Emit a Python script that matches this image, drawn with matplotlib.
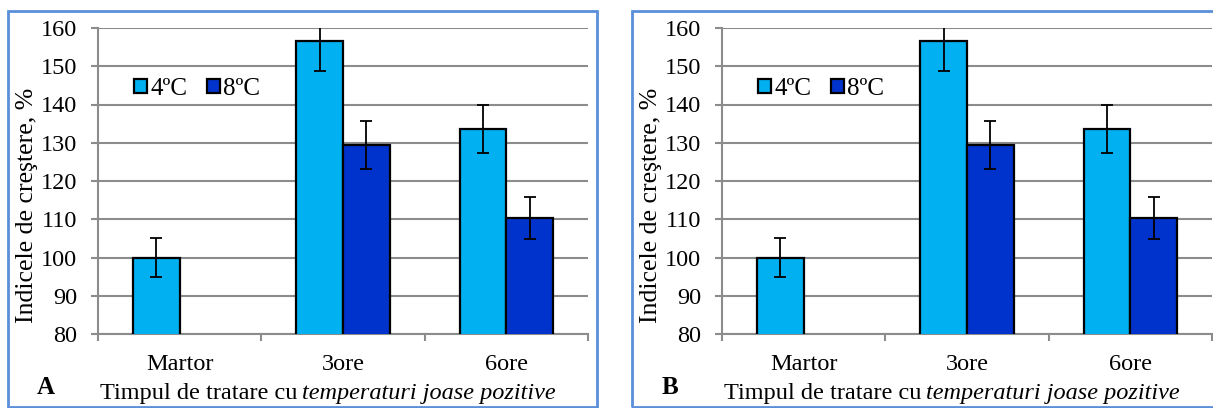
import numpy as np
import matplotlib.pyplot as plt
from matplotlib.patches import Rectangle

plt.rcParams["font.family"] = ["Liberation Serif", "DejaVu Serif"]

categories = ["Martor", "3ore", "6ore"]
series_names = ["4ºC", "8ºC"]
vals_4c = [100.0, 156.6, 133.6]
err_4c = [5.0, 7.9, 6.4]
vals_8c = [np.nan, 129.5, 110.4]
err_8c = [np.nan, 6.3, 5.5]
panel_letters = ["A", "B"]

C_LIGHT = "#00B0F0"
C_DARK = "#0033CC"
GRID = "#8C8C8C"
BORDER = "#5B8FD9"
FS = 17.5

W, H = 1213, 408
fig = plt.figure(figsize=(W / 100, H / 100), dpi=100)


def px(x, y):
	return x / W, 1 - y / H


def draw_panel(off, letter):
	# outer frame of the panel
	x0, y0 = px(off + 8, 407)
	fig.patches.append(Rectangle((x0, y0), 589 / W, 396 / H, transform=fig.transFigure,
		fill=False, edgecolor=BORDER, linewidth=2, zorder=0))

	ax = fig.add_axes([(off + 98) / W, (H - 334) / H, 490 / W, 306 / H])
	x = np.arange(len(categories))
	bw = 1 / 3.5
	ax.bar(x - bw / 2, vals_4c, bw, color=C_LIGHT, edgecolor="black", linewidth=1.6,
		label=series_names[0], zorder=3)
	ax.bar(x + bw / 2, vals_8c, bw, color=C_DARK, edgecolor="black", linewidth=1.6,
		label=series_names[1], zorder=3)
	ax.errorbar(x - bw / 2, vals_4c, yerr=err_4c, fmt="none", ecolor="black",
		elinewidth=1.3, capsize=4.5, capthick=1.3, zorder=4)
	ax.errorbar(x + bw / 2, vals_8c, yerr=err_8c, fmt="none", ecolor="black",
		elinewidth=1.3, capsize=4.5, capthick=1.3, zorder=4)

	ax.set_ylim(80, 160)
	ax.set_xlim(-0.5, 2.5)
	ax.set_yticks(np.arange(80, 161, 10))
	ax.yaxis.grid(True, color=GRID, linewidth=1.5, zorder=0)
	ax.set_axisbelow(True)
	for s in ["top", "right"]:
		ax.spines[s].set_visible(False)
	for s in ["left", "bottom"]:
		ax.spines[s].set_color(GRID)
		ax.spines[s].set_linewidth(1.5)
	ax.tick_params(axis="y", labelsize=FS, color=GRID, width=1.5, length=5, pad=10)

	ax.set_xticks([-0.5, 0.5, 1.5, 2.5])
	ax.set_xticklabels([])
	ax.tick_params(axis="x", which="major", color=GRID, width=1.5, length=5)
	ax.set_xticks(x, minor=True)
	ax.set_xticklabels(categories, minor=True)
	ax.tick_params(axis="x", which="minor", length=0, labelsize=FS, pad=14.7)

	ax.set_ylabel("Indicele de creştere, %", fontsize=18.5)
	ax.yaxis.set_label_coords(-0.122, 0.42)

	ax.legend(loc="upper left", bbox_to_anchor=(0.054, 0.87), ncol=2, frameon=False,
		fontsize=18, handlelength=0.5, handleheight=0.5, handletextpad=0.15,
		columnspacing=0.78, borderaxespad=0)

	fx, fy = px(off + 298, 393)
	fig.text(fx, fy, "Timpul de tratare cu", ha="right", va="center", fontsize=FS)
	fx, fy = px(off + 302, 393)
	fig.text(fx, fy, "temperaturi joase pozitive", ha="left", va="center",
		fontsize=FS, style="italic")
	fx, fy = px(off + 46, 388)
	fig.text(fx, fy, letter, ha="center", va="center", fontsize=18, fontweight="bold")


for i, letter in enumerate(panel_letters):
	draw_panel(i * 624, letter)

fig.savefig("out.png", dpi=100)
